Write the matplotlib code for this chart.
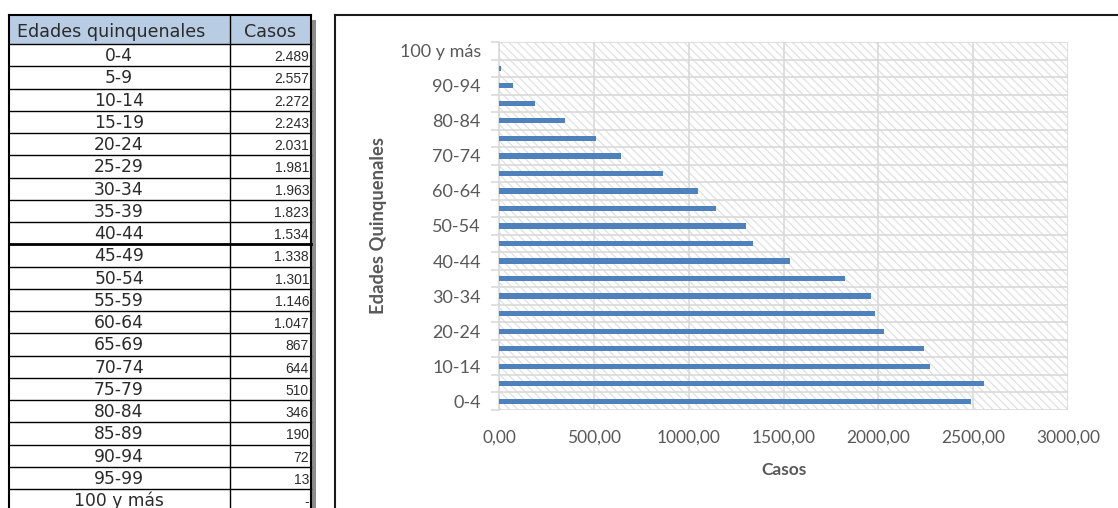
import matplotlib.pyplot as plt
from matplotlib.patches import Rectangle
from matplotlib.ticker import FuncFormatter, MultipleLocator

# data
edades = ['0-4', '5-9', '10-14', '15-19', '20-24', '25-29', '30-34', '35-39',
          '40-44', '45-49', '50-54', '55-59', '60-64', '65-69', '70-74',
          '75-79', '80-84', '85-89', '90-94', '95-99', '100 y más']
casos = [2489, 2557, 2272, 2243, 2031, 1981, 1963, 1823, 1534, 1338, 1301,
         1146, 1047, 867, 644, 510, 346, 190, 72, 13, 0]

W, H = 1118, 508
fig = plt.figure(figsize=(W / 100, H / 100), dpi=100)

# ---- table on the left (drawn in pixel coordinates) ----
tab = fig.add_axes([0, 0, 1, 1])
tab.set_xlim(0, W)
tab.set_ylim(H, 0)
tab.axis('off')

x0, xm, x1 = 9, 230, 311
top, head_bot, row_h = 15, 44, 22.25
txt_col = '#2b2b2b'

# shadow
tab.add_patch(Rectangle((x1, 20), 5, H - 20, color='#8c8c8c', lw=0))
# header
tab.add_patch(Rectangle((x0, top), x1 - x0, head_bot - top,
                        facecolor='#b8cce4', edgecolor='none'))
tab.text(111, 37, 'Edades quinquenales', ha='center', va='baseline',
         fontsize=12.6, family='DejaVu Sans', color=txt_col)
tab.text(270, 37, 'Casos', ha='center', va='baseline',
         fontsize=12.6, family='DejaVu Sans', color=txt_col)

def fmt_miles(v):
    if v == 0:
        return '-'
    return f'{v:,}'.replace(',', '.')

for i, (e, c) in enumerate(zip(edades, casos)):
    yt = head_bot + i * row_h
    yc = yt + row_h / 2
    tab.text(119, yc + 1, e, ha='center', va='center', fontsize=12.3,
             family='DejaVu Sans', color=txt_col)
    tab.text(x1 - 2, yc + 2, fmt_miles(c), ha='right', va='center', fontsize=10,
             family='Liberation Sans', color=txt_col)
    lw = 2.0 if i == 9 else 1.0
    tab.plot([x0, x1], [yt, yt], color='black', lw=lw)

tab.plot([x0, x1], [top, top], color='black', lw=1.5)
tab.plot([x0, x0], [top, H], color='black', lw=1.5)
tab.plot([x1, x1], [top, H], color='black', lw=1.5)
tab.plot([xm, xm], [top, H], color='black', lw=1.0)

# chart frame
tab.plot([335, W], [15, 15], color='#1a1a1a', lw=1.5)
tab.plot([335, 335], [15, H], color='#1a1a1a', lw=1.5)

# ---- bar chart ----
plt.rcParams['hatch.linewidth'] = 0.8
ax = fig.add_axes([499 / W, (H - 410) / H, 569 / W, 368 / H])
ax.set_facecolor('none')
ax.add_patch(Rectangle((0, 0), 1, 1, transform=ax.transAxes,
                       facecolor='white', edgecolor='#dedede', lw=0,
                       hatch='\\\\\\\\', zorder=0))

ypos = list(range(len(edades)))
ax.barh(ypos, casos, height=0.3, color='#4f81bd', zorder=3)

ax.set_xlim(0, 3000)
ax.set_ylim(-0.5, len(edades) - 0.5)
ax.xaxis.set_major_locator(MultipleLocator(500))
ax.xaxis.set_major_formatter(FuncFormatter(lambda v, p: f'{v:.2f}'.replace('.', ',')))
ax.set_yticks(ypos[::2])
ax.set_yticklabels(edades[::2])
ax.set_yticks([y - 0.5 for y in range(len(edades) + 1)], minor=True)

ax.grid(True, axis='x', which='major', color='#d9d9d9', lw=1.2, zorder=1)
ax.grid(True, axis='y', which='minor', color='#d9d9d9', lw=1.2, zorder=1)
ax.set_axisbelow(True)

for s in ax.spines.values():
    s.set_visible(False)
ax.spines['left'].set_visible(True)
ax.spines['left'].set_color('#d9d9d9')
ax.spines['left'].set_linewidth(1.2)

ax.tick_params(axis='y', which='major', length=0, pad=13, labelsize=13,
               labelcolor='#595959')
ax.tick_params(axis='y', which='minor', length=6, color='#d9d9d9', width=1.2)
ax.tick_params(axis='x', length=0, pad=14, labelsize=12.5, labelcolor='#595959')
for lab in ax.get_xticklabels() + ax.get_yticklabels():
    lab.set_family('Lato')

ax.set_xlabel('Casos', fontsize=12.5, fontweight='bold', color='#595959',
              family='Lato', labelpad=12)
ax.set_ylabel('Edades Quinquenales', fontsize=13.2, fontweight='bold',
              color='#595959', family='Lato', labelpad=9)

fig.savefig('out.png', dpi=100)
